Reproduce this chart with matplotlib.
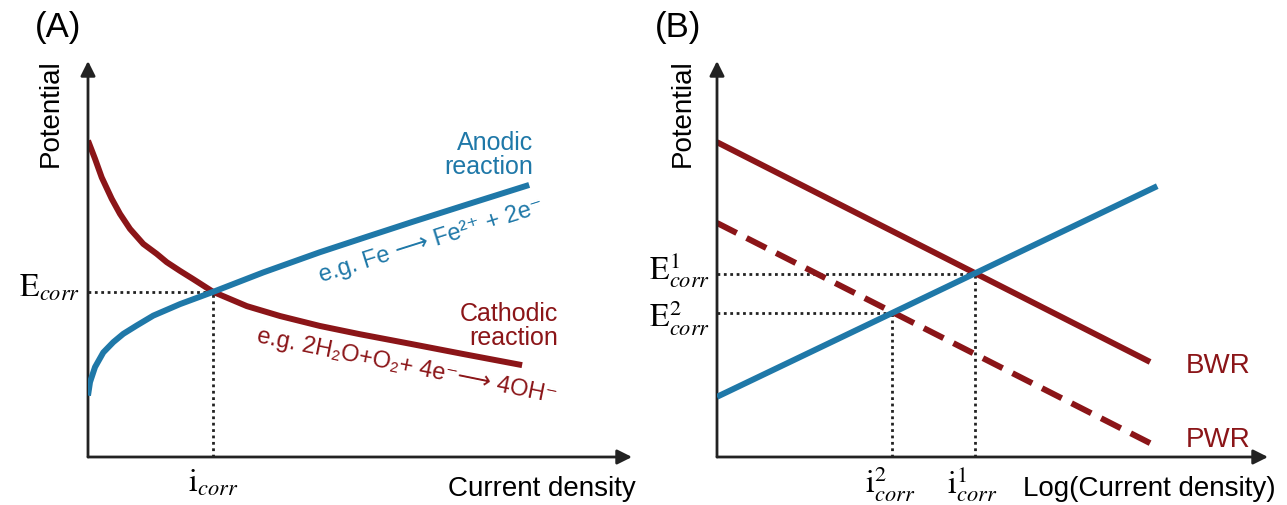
import matplotlib
matplotlib.use('Agg')
import matplotlib.pyplot as plt

plt.rcParams['font.family'] = ['Liberation Sans', 'DejaVu Sans']
plt.rcParams['mathtext.fontset'] = 'stix'

RED = '#8B1518'
BLUE = '#1F78A8'
AX = '#222222'

# panel A: polarisation curves (arbitrary units, 0-100)
a_cath_x = [0, 1.29, 2.52, 4.36, 5.88, 7.72, 10.17, 12.63, 14.47, 16.91, 19.36, 23.0,
            29.2, 35.3, 42.6, 50.0, 59.2, 69.0, 79.8]
a_cath_y = [79.9, 75.3, 70.6, 65.2, 61.4, 57.6, 53.8, 51.3, 49.2, 47.0, 44.9, 41.7,
            38.1, 35.6, 33.1, 31.0, 28.6, 26.0, 23.2]
a_anod_x = [0, 0.37, 1.29, 2.81, 4.65, 6.49, 8.95, 12.0, 16.9, 23.0, 32.2, 42.6, 51.0,
            59.7, 70.0, 81.1]
a_anod_y = [15.5, 18.9, 22.7, 26.4, 29.0, 31.1, 33.2, 35.7, 38.6, 41.7, 46.6, 51.7, 55.5,
            59.4, 63.9, 68.7]
a_ecorr = 41.7
a_icorr = 23.0

# panel B: Tafel lines
b_bwr_x = [0, 78.6]
b_bwr_y = [79.5, 24.0]
b_pwr_x = [0, 78.6]
b_pwr_y = [59.1, 3.5]
b_anod_x = [0, 79.9]
b_anod_y = [15.2, 68.4]
b_ecorr = [46.3, 36.4]   # E1, E2
b_icorr = [46.8, 31.8]   # i1, i2

W, H = 1287, 506
fig = plt.figure(figsize=(W / 100, H / 100), dpi=100)


def px(x, y):
    return x / W, 1 - y / H


def make_axes(x0, x1, y0=62, y1=458):
    ax = fig.add_axes([x0 / W, 1 - y1 / H, (x1 - x0) / W, (y1 - y0) / H])
    ax.set_xlim(0, 100)
    ax.set_ylim(0, 100)
    ax.axis('off')
    kw = dict(arrowstyle='-|>', color=AX, lw=2, mutation_scale=22, shrinkA=0, shrinkB=0)
    ax.annotate('', xy=(1, 0), xytext=(0, 0), xycoords='axes fraction', arrowprops=kw)
    ax.annotate('', xy=(0, 1), xytext=(0, 0), xycoords='axes fraction', arrowprops=kw)
    return ax


line_kw = dict(lw=4.3, solid_capstyle='butt', solid_joinstyle='round')
dot_kw = dict(color=AX, lw=2, ls=(0, (1, 1.3)), zorder=1)

# ---------------- (A) ----------------
axA = make_axes(88, 632)
axA.plot([0, a_icorr], [a_ecorr, a_ecorr], **dot_kw)
axA.plot([a_icorr, a_icorr], [0, a_ecorr], **dot_kw)
axA.plot(a_cath_x, a_cath_y, color=RED, zorder=2, **line_kw)
axA.plot(a_anod_x, a_anod_y, color=BLUE, zorder=3, **line_kw)

fig.text(*px(58, 27), '(A)', fontsize=25, ha='center', va='center')
fig.text(*px(51, 113), 'Potential', fontsize=20, rotation=90, ha='center', va='center')
fig.text(*px(636, 489), 'Current density', fontsize=20, ha='right', va='center')
fig.text(*px(213, 484), r'$\mathrm{i}_{corr}$', fontsize=23, ha='center', va='center')
fig.text(*px(80, 289), r'$\mathrm{E}_{corr}$', fontsize=23, ha='right', va='center')

fig.text(*px(533, 155), 'Anodic\nreaction', fontsize=18, color=BLUE, ha='right',
         va='center', linespacing=0.95)
fig.text(*px(431, 241), 'e.g. Fe \u27f6 Fe\u00b2\u207a + 2e\u207b', fontsize=17, color=BLUE,
         ha='center', va='center', rotation=17.5, rotation_mode='anchor')
fig.text(*px(558, 326), 'Cathodic\nreaction', fontsize=18, color=RED, ha='right',
         va='center', linespacing=0.95)
fig.text(*px(407, 367), 'e.g. 2H\u2082O+O\u2082+ 4e\u207b\u27f6 4OH\u207b', fontsize=17,
         color=RED, ha='center', va='center', rotation=-11.5, rotation_mode='anchor')

# ---------------- (B) ----------------
axB = make_axes(717, 1268)
for e, i in zip(b_ecorr, b_icorr):
    axB.plot([0, i], [e, e], **dot_kw)
    axB.plot([i, i], [0, e], **dot_kw)
axB.plot(b_bwr_x, b_bwr_y, color=RED, zorder=2, **line_kw)
axB.plot(b_pwr_x, b_pwr_y, color=RED, lw=4.3, dashes=(3.7, 1.85), dash_capstyle='butt', zorder=2)
axB.plot(b_anod_x, b_anod_y, color=BLUE, zorder=3, **line_kw)

fig.text(*px(678, 27), '(B)', fontsize=25, ha='center', va='center')
fig.text(*px(683, 113), 'Potential', fontsize=20, rotation=90, ha='center', va='center')
fig.text(*px(1276, 489), 'Log(Current density)', fontsize=20, ha='right', va='center')
fig.text(*px(890, 484), r'$\mathrm{i}_{corr}^{2}$', fontsize=23, ha='center', va='center')
fig.text(*px(972, 484), r'$\mathrm{i}_{corr}^{1}$', fontsize=23, ha='center', va='center')
fig.text(*px(710, 270), r'$\mathrm{E}_{corr}^{1}$', fontsize=23, ha='right', va='center')
fig.text(*px(710, 318), r'$\mathrm{E}_{corr}^{2}$', fontsize=23, ha='right', va='center')
fig.text(*px(1186, 366), 'BWR', fontsize=20, color=RED, ha='left', va='center')
fig.text(*px(1186, 440), 'PWR', fontsize=20, color=RED, ha='left', va='center')

fig.savefig('out.png', dpi=100)
